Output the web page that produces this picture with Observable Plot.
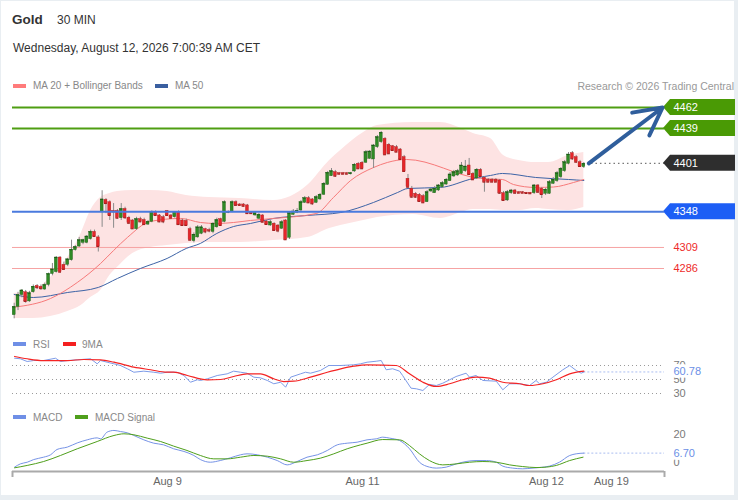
<!DOCTYPE html>
<html><head><meta charset="utf-8">
<script src="https://cdn.jsdelivr.net/npm/d3@7"></script>
<script src="https://cdn.jsdelivr.net/npm/@observablehq/plot@0.6"></script>
<style>
body{margin:0;background:#e9eef2;font-family:"Liberation Sans",Arial,sans-serif;}
#page{position:absolute;left:0;top:0;width:738px;height:500px;overflow:hidden;}
#white{position:absolute;left:1px;top:1px;width:733px;height:494px;background:#fff;}
.t{position:absolute;white-space:nowrap;line-height:1;}
.sw{position:absolute;height:4px;width:13px;}
.panel{position:absolute;left:0;}
</style></head><body>
<div id="page">
<div id="white"></div>
<div class="t" style="left:12px;top:13px;font-size:13.5px;font-weight:bold;color:#333">Gold</div>
<div class="t" style="left:57px;top:13.5px;font-size:12px;color:#333">30 MIN</div>
<div class="t" style="left:13px;top:42px;font-size:12px;color:#333">Wednesday, August 12, 2026 7:00:39 AM CET</div>
<div class="sw" style="left:13px;top:84px;background:#ff7b7b"></div>
<div class="t" style="left:33px;top:81px;font-size:10px;color:#888">MA 20 + Bollinger Bands</div>
<div class="sw" style="left:155px;top:84px;background:#3a5fa0"></div>
<div class="t" style="left:175px;top:81px;font-size:10px;color:#888">MA 50</div>
<div class="t" style="right:4px;top:80.6px;font-size:10.5px;color:#999">Research © 2026 Trading Central</div>
<div class="sw" style="left:13px;top:342px;background:#6f8fe6"></div>
<div class="t" style="left:33px;top:339.5px;font-size:10px;color:#888">RSI</div>
<div class="sw" style="left:63px;top:342px;background:#f42020"></div>
<div class="t" style="left:82px;top:339.5px;font-size:10px;color:#888">9MA</div>
<div class="sw" style="left:13px;top:415px;background:#6f8fe6"></div>
<div class="t" style="left:33px;top:412.5px;font-size:10px;color:#888">MACD</div>
<div class="sw" style="left:75px;top:415px;background:#4f9f1c"></div>
<div class="t" style="left:95px;top:412.5px;font-size:10px;color:#888">MACD Signal</div>
<div id="main" class="panel" style="top:95px"></div>
<div id="rsi" class="panel" style="top:350px"></div>
<div id="macd" class="panel" style="top:420px"></div>
</div>
<script>
// ---------- price candles (30 min bars, bar 1..150) ----------
const opens = [4235,4244,4257,4260,4250,4260,4267,4266,4263,4268,
4280,4282,4298,4290,4290,4295,4306,4310,4314,4314,
4318,4326,4320,4348,4361,4358.5,4349,4349,4341,4351,
4341.5,4338.5,4329,4340,4339,4334,4337,4348,4344,4342,
4349,4344,4342,4348,4338.5,4338,4329,4316,4320,4324,
4329,4328,4326,4331,4340,4337,4347,4348,4358.5,4356,
4356,4355,4347,4344,4340.4,4344,4337.4,4333,4335,4333,
4329.4,4338.5,4319.6,4344.7,4346.9,4349.4,4357.8,4362.9,4361.5,4357.8,
4361.5,4366.6,4377.5,4386.9,4391.3,4390.2,4390.2,4390.2,4389.1,4392.1,
4400.5,4401.6,4401.6,4405.9,4405.2,4418.6,4424.1,4427.8,4421.3,4419.7,
4418.6,4416.1,4407.7,4384.1,4373.2,4367.7,4366.6,4365.1,4358.5,4370.2,
4368.3,4371.3,4374.9,4377.8,4381.5,4386.6,4387.7,4389.5,4392.4,4398.6,
4389.5,4384.4,4393.9,4385.2,4383,4383,4383,4382.2,4368.3,4360.4,
4368.3,4371.3,4369.4,4369.4,4368.8,4368.8,4368.3,4376.8,4373.2,4367.7,
4367.7,4378.6,4381.5,4385.8,4392.4,4400.5,4412.1,4407.7,4402.2,4396.8];
const highs = [4248,4260,4263,4262,4261,4268,4268.5,4268,4270,4281,
4291.5,4299,4299,4293,4297,4317,4311,4320,4318,4322,
4328,4328,4322,4371,4362.5,4360,4357,4350.5,4357,4353,
4343,4339.6,4342,4342,4341,4338.5,4349,4349,4345,4344,
4349.4,4345,4348.3,4349,4340,4340,4331,4325,4333,4333,
4330,4330,4336,4341,4341,4360,4349,4360,4360,4357,
4357,4356,4348,4347,4346,4345,4338.5,4338.5,4336,4334,
4338.5,4339.6,4348.3,4350.5,4351.6,4360.4,4364.7,4364.7,4362.5,4365.8,
4368,4380,4392.1,4395.3,4393.2,4391,4391,4391,4391,4400.8,
4401.9,4403,4415,4415,4421.6,4431.4,4435.8,4429.2,4422.7,4420.5,
4420.5,4417.2,4409.6,4388.8,4375.7,4369.1,4368,4366.9,4371.3,4373.5,
4375.7,4377.8,4381.1,4384.4,4391,4393.2,4394.3,4401.9,4404.1,4406.3,
4391,4395.3,4395.3,4386.6,4384.4,4384.4,4384.4,4383.3,4370.2,4371.3,
4372.4,4372.4,4370.2,4370.2,4369.1,4369.1,4377.8,4377.8,4374.6,4373.5,
4382.2,4385.5,4392.1,4396.4,4404.1,4412.8,4413.9,4409.6,4404.1,4401.9];
const lows = [4231,4240,4254,4248,4249,4259,4263,4262,4262,4266,
4278,4281,4281,4284,4288,4294,4305,4309,4312,4313,
4317,4320,4304,4331,4346,4338.5,4330,4340,4338.5,4339.6,
4334,4328.7,4327.6,4336,4333,4333,4336,4343,4336,4335,
4343,4340.7,4341,4333,4332,4332,4315.5,4314,4319,4323,
4324,4325,4324,4330,4332,4336,4346,4347,4354,4354,
4353,4345,4345,4343,4339.6,4336,4333,4332,4326.5,4325,
4328.7,4316.6,4317.7,4344,4346,4348.3,4357,4357,4355,4357,
4360.4,4365.8,4376.8,4386.6,4385.5,4388.2,4388.2,4388.2,4388.2,4391,
4394.3,4394.3,4400.8,4405.2,4395.3,4417.2,4422.7,4409.6,4410.6,4413.9,
4412.8,4404.1,4391,4373.5,4362.5,4362.5,4358.2,4357.1,4358.2,4369.1,
4368,4370.2,4373.5,4376.8,4381.1,4385.5,4386.6,4388.8,4391,4387.7,
4382.2,4383.3,4385.5,4369.4,4380,4380,4380,4366.9,4359.3,4359.3,
4366.9,4366.9,4368,4368,4366.9,4366.9,4366.9,4368,4362.5,4365.8,
4366.9,4377.8,4380,4384.4,4391,4399.3,4404.1,4400.8,4396.4,4395.3];
const closes = [4244,4257,4262,4250,4259,4266,4265,4264,4268,4280,
4285,4298,4282,4285,4296,4306.5,4309.5,4317,4317,4321,
4326,4321,4310,4361.5,4357,4344,4348,4341,4351,4341.5,
4335.5,4329.4,4340,4337,4334,4337,4348,4344,4337,4337,
4344,4341,4348,4334,4333,4333,4317,4323,4331,4331,
4326,4327,4335,4339,4333,4358.5,4348,4358.5,4355,4355,
4354,4346,4346,4346.5,4344.7,4336.6,4334.1,4336.6,4327.6,4327,
4336.6,4317.4,4346.5,4348.3,4349.1,4358.5,4362.9,4357.8,4356.7,4364,
4366.6,4378.6,4390.6,4392.4,4386.9,4389.1,4389.1,4389.1,4390.2,4399.4,
4395,4395,4413.2,4413.9,4420.5,4429.6,4434.4,4410.3,4411.4,4415,
4413.2,4405.2,4392.1,4374.9,4364,4364,4359.3,4357.8,4369.4,4372.4,
4373.2,4376.8,4379.3,4383,4388.8,4391.3,4392.4,4398.6,4397.5,4388.8,
4383,4393.9,4386.6,4380.4,4380.4,4380.4,4380.4,4368.3,4360.4,4369.4,
4371.3,4368.3,4368.3,4368.3,4368,4367.7,4376.8,4369.4,4366.9,4372.1,
4380.4,4383,4390.2,4395,4402.2,4410.6,4405.9,4402.2,4397.5,4400.5];

// ---------- MA 20, MA 50, Bollinger Bands (read at sample bars) ----------
const ma20Bars = [1,10.5,17.5,23.6,27,30.6,36.6,44.5,49.7,54,58.4,62.8,68.8,80,84.5,89,95,98.6,103.6,123,128.7,131.6,137.4,142.1,147.3,150];
const ma20Vals = [4243.7,4253.2,4270.7,4291.5,4305.7,4319.9,4337.4,4340.7,4336.3,4335.2,4336.3,4338.5,4340.7,4346.1,4363.6,4382.2,4396.4,4401.9,4405.2,4384.4,4383.3,4377.8,4374.6,4375.1,4380,4383.3];
const ma50Bars = [1,6,15,23,28,34,41,46,49.7,54,58.4,62.8,68.8,77.7,86.4,95,101.3,104,112.5,121.1,125.6,128.7,137.4,146,150];
const ma50Vals = [4257.6,4254.3,4259.8,4265.3,4275.1,4286.0,4297,4307.9,4313.4,4324.3,4331.9,4335.2,4340.7,4344,4347.2,4358.2,4369.1,4373.5,4374.6,4384.4,4387.7,4389.9,4385.5,4383.3,4382.2];
const bbBars = [1,6,10.5,15,18.5,21,23.6,26,28,32,36.6,41,46,52,60,68.8,77.7,83.5,86.4,92.4,96,105.4,112.5,118,121.1,125.6,129,133,137.4,140.8,146,150];
const bbUpper = [4258.7,4262.0,4276.2,4298.0,4324.3,4349.4,4363.6,4368.0,4370.2,4371.3,4371.3,4370.2,4365.8,4363.6,4362.5,4360.4,4376.8,4404.1,4415.0,4434.7,4442.4,4445.6,4445.6,4439.1,4433.6,4428.1,4409.6,4404.1,4401.9,4401.9,4409.6,4412.8];
const bbLower = [4231.4,4231.4,4233.5,4239.0,4245.6,4254.3,4262.0,4278.4,4287.1,4302.4,4309.0,4311.2,4313.4,4314.4,4314.4,4316.6,4319.9,4329.8,4333.0,4338.5,4341.8,4345.1,4340.7,4347.2,4350.5,4350.5,4349.4,4349.4,4351.6,4350.5,4349.4,4352.7];

// ---------- key levels ----------
const resistLevels = [4462, 4439];
const pivotLevel = 4348;
const supportLevels = [4309, 4286];
const lastPrice = 4401;

// ---------- RSI ----------
const rsiBars = [1.1,2.6,4.4,6.1,8.7,11.8,13.1,14.9,17.5,21,22.7,23.6,25.3,27.1,28.8,30.6,32.3,34.9,37.5,39.3,41,43.6,45.4,47.1,48.9,49.7,51.5,54.1,56.7,58.4,60.2,61.9,63.7,65.4,67.2,68.9,70.7,72,73.3,75.9,77.2,78.5,81.1,83.3,86.4,89.8,91.6,93.3,
95.7,97,98.3,100,101.8,102.6,104.8,106.2,107.9,109.6,111.4,113.1,114.9,116.6,119.2,120.1,121.8,123.6,127.1,128.8,130.6,133.2,135.8,137.5,138.4,140.2,141.9,144.5,146.3,148,149.3,150];
const rsiVals = [80.4,79.6,75.7,77.1,77.1,80.4,75.7,77.1,78.1,79.6,72.4,77.1,74.7,72.4,70,65.3,60.4,61.9,60.4,59,60.4,60.4,55.7,46.1,49.6,48.6,51,55.7,58.1,61.9,60.4,59,53.3,52.4,48.6,43.9,46.1,39,53.3,58.1,60.4,59,62.9,70,70,71,72.4,74.7,
76.1,77.1,63.9,65.3,61.9,55.7,37.6,36.7,34.3,42.9,41.4,44.7,49.6,54.3,59,53.3,55.7,48.6,47.6,35.3,43.9,43.9,41.4,48.6,43.9,46.1,53.3,63.9,70,62.9,59,60.78];
const rsiMaBars = [1.1,4.4,8.7,14.9,19.2,23.6,27.1,32.3,36.7,41,42.7,46.3,51.5,55,58.4,61.9,65.4,68.9,71.5,74.1,78.5,82.9,86.4,89.8,93.3,100.9,104.4,107.9,111.4,114.9,118.3,121.8,125.3,128.8,133.2,135.8,139.3,142.8,146.3,150];
const rsiMaVals = [82.9,79.6,77.1,77.1,78.6,78.1,74.7,67.6,63.9,60.4,60.4,55.7,49.6,50,54.3,58.1,58.1,51,47.1,47.6,53.3,60.4,65.3,69,71,70,58.1,46.1,40,43.9,49.6,53.3,51.9,46.1,43.9,41.4,43.9,49.6,58.1,61.9];
const rsiLevels = [70, 50, 30];
const rsiLast = 60.78;

// ---------- MACD ----------
const macdBars = [1.1,2.6,4.4,6.1,8.7,10.5,12.2,14.9,17.5,20.1,22.7,23.6,25.3,27.1,28.8,30.6,32.3,34.9,37.5,40.1,42.7,45.4,48,49.7,52.3,54.9,57.5,60.2,61.9,64.6,67.2,69.8,72.4,75,77.6,80.3,82.9,85.5,88.1,90.7,93.3,
95.7,97.4,99.2,101.8,104.4,107,109.6,111.4,114,116.6,119.2,121.8,124.5,127.1,128.8,131.4,134,136.7,138.4,141,143.6,146.3,148,150];
const macdVals = [-3.3,-1.0,0.2,2.1,3.8,5.5,9.3,11.0,14.0,16.2,17.6,16.9,21.7,22.9,22.1,21.2,19.3,16.2,13.8,12.6,9.8,7.9,5.0,2.1,0.2,1.4,3.3,5.5,6.2,5.5,3.8,1.4,-1.7,0.7,3.8,5.5,8.6,12.6,13.8,14.5,16.2,
16.9,18.1,17.4,15.7,9.8,0.2,-3.3,-4.0,-3.3,-1.0,0.7,1.4,1.4,0.2,-2.6,-4.0,-4.5,-4.0,-3.6,-2.6,0.2,5.0,6.2,6.7];
const signalBars = [1.1,4.4,8.7,13.1,17.5,22.7,27.1,29.7,32.3,35.8,39.3,42.7,46.2,49.7,53.2,56.7,60.2,63.7,67.2,70.7,74.1,77.6,81.1,84.6,88.1,91.6,93.3,
97.4,101.8,104.4,107,109.6,113.1,116.6,120.1,123.6,127.1,130.6,134,137.5,140.2,142.8,146.3,149.8];
const signalVals = [-3.8,-2.1,0.7,5.0,9.8,15.0,19.3,20.5,19.8,17.4,15.0,11.7,8.6,5.0,2.6,2.6,3.8,5.0,4.5,2.6,0.2,1.4,3.1,6.2,9.8,12.6,13.8,
16.4,16.2,12.1,6.2,1.4,-1.7,-1.0,0.2,0.7,0.2,-1.7,-2.9,-3.6,-3.3,-2.1,1.4,3.8];
const macdLevels = [20, 0];
const macdLast = 6.70;

// ---------- time axis ----------
const tickBars = [41.1, 92.1, 140.2, 157.2];
const tickLabels = ["Aug 9", "Aug 11", "Aug 12", "Aug 19"];

// ================= build =================
const xDomain = [0.555, 171.1];
const FONT = "'Liberation Sans', Arial, sans-serif";
const common = {width: 738, marginLeft: 12, marginRight: 74, marginTop: 0,
  style: {background: "none", fontFamily: FONT, overflow: "visible"}};

const candles = opens.map((o, i) => ({bar: i + 1, open: o, high: highs[i], low: lows[i], close: closes[i]}));
const upC = candles.filter(d => d.close >= d.open);
const dnC = candles.filter(d => d.close < d.open);
const ma20 = ma20Bars.map((b, i) => ({bar: b, v: ma20Vals[i]}));
const ma50 = ma50Bars.map((b, i) => ({bar: b, v: ma50Vals[i]}));
const bb = bbBars.map((b, i) => ({bar: b, upper: bbUpper[i], lower: bbLower[i]}));
const tags = [
  {v: resistLevels[0], fill: "#4a9a05"},
  {v: resistLevels[1], fill: "#4a9a05"},
  {v: lastPrice, fill: "#2e2e2e"},
  {v: pivotLevel, fill: "#1d5ef5"}
];
const bw = 0.38;

const main = Plot.plot({
  ...common, height: 235, marginBottom: 0,
  x: {domain: xDomain, axis: null},
  y: {domain: [4286, 4462], range: [173, 12], axis: null},
  marks: [
    Plot.areaY(bb, {x: "bar", y1: "lower", y2: "upper", fill: "#fde3e3", curve: "monotone-x"}),
    Plot.ruleY(supportLevels, {stroke: "#f6a3a3", strokeWidth: 1}),
    Plot.line(ma50, {x: "bar", y: "v", stroke: "#3d63a6", strokeWidth: 1, curve: "monotone-x"}),
    Plot.line(ma20, {x: "bar", y: "v", stroke: "#f77a7a", strokeWidth: 1, curve: "monotone-x"}),
    Plot.ruleX(candles, {x: "bar", y1: "low", y2: "high", stroke: "#8a8a8a", strokeWidth: 1}),
    Plot.rect(upC, {x1: d => d.bar - bw, x2: d => d.bar + bw, y1: "open", y2: "close", fill: "#2f8a25", stroke: "#1d5c17", strokeWidth: 0.4}),
    Plot.rect(dnC, {x1: d => d.bar - bw, x2: d => d.bar + bw, y1: "open", y2: "close", fill: "#e5262a", stroke: "#a51a1a", strokeWidth: 0.4}),
    Plot.ruleY(upC, {x1: d => d.bar - bw, x2: d => d.bar + bw, y: "close", stroke: "#1d5c17", strokeWidth: 1}),
    Plot.ruleY(dnC, {x1: d => d.bar - bw, x2: d => d.bar + bw, y: "close", stroke: "#a51a1a", strokeWidth: 1}),
    Plot.ruleY(resistLevels, {stroke: "#4f9e12", strokeWidth: 2}),
    Plot.ruleY([pivotLevel], {stroke: "#4a7ade", strokeWidth: 2}),
    Plot.ruleY([lastPrice], {x1: 152, x2: xDomain[1], stroke: "#555", strokeDasharray: "1.5,3"}),
    Plot.arrow([{x1: 151.3, y1: lastPrice, x2: 170.6, y2: resistLevels[0]}],
      {x1: "x1", y1: "y1", x2: "x2", y2: "y2", stroke: "#2f5e9c", strokeWidth: 4, headLength: 13, headAngle: 55}),
    Plot.text(tags, {y: "v", text: d => String(d.v), frameAnchor: "right", dx: 9, textAnchor: "start", fill: "white", fontSize: 11}),
    Plot.text(supportLevels, {y: d => d, text: d => String(d), frameAnchor: "right", dx: 9, textAnchor: "start", fill: "#ee2b2b", fontSize: 11})
  ]
});
document.getElementById("main").appendChild(main);
(function () {
  const ys = main.scale("y");
  const yf = ys.apply ? (v => ys.apply(v)) : d3.scaleLinear(ys.domain, ys.range);
  const g = d3.select(main).insert("g", ":first-child");
  tags.forEach(t => {
    const y = yf(t.v);
    g.append("polygon")
      .attr("points", `663,${y} 670,${y - 8} 735,${y - 8} 735,${y + 8} 670,${y + 8}`)
      .attr("fill", t.fill);
  });
})();

const rsi = rsiBars.map((b, i) => ({bar: b, v: rsiVals[i]}));
const rsiMa = rsiMaBars.map((b, i) => ({bar: b, v: rsiMaVals[i]}));
const rsiPlot = Plot.plot({
  ...common, height: 50, marginBottom: 0,
  x: {domain: xDomain, axis: null},
  y: {domain: [30, 70], range: [43, 15], axis: null},
  marks: [
    Plot.ruleY(rsiLevels, {stroke: "#9a9a9a", strokeDasharray: "1,3"}),
    Plot.ruleY([rsiLast], {x1: 150, x2: xDomain[1], stroke: "#a9bdf0", strokeDasharray: "2,2"}),
    Plot.line(rsi, {x: "bar", y: "v", stroke: "#7d9be8", strokeWidth: 1}),
    Plot.line(rsiMa, {x: "bar", y: "v", stroke: "#f42424", strokeWidth: 1.2, curve: "monotone-x"}),
    Plot.text(rsiLevels, {y: d => d, text: d => String(d), frameAnchor: "right", dx: 9, textAnchor: "start", fill: "#7a7a7a", fontSize: 11}),
    Plot.text([rsiLast], {y: d => d, text: d => d.toFixed(2), frameAnchor: "right", dx: 9, textAnchor: "start", fill: "#6b8fe6", fontSize: 11, stroke: "white", strokeWidth: 6, paintOrder: "stroke"})
  ]
});
document.getElementById("rsi").appendChild(rsiPlot);

const macd = macdBars.map((b, i) => ({bar: b, v: macdVals[i]}));
const signal = signalBars.map((b, i) => ({bar: b, v: signalVals[i]}));
const macdFloor = -6.43;
const ticks = tickBars.map((b, i) => ({bar: b, label: tickLabels[i]}));
const macdPlot = Plot.plot({
  ...common, height: 80, marginBottom: 29,
  x: {domain: xDomain, axis: null},
  y: {domain: [macdFloor, 20], range: [51, 14], axis: null},
  marks: [
    Plot.ruleY([macdLast], {x1: 150, x2: xDomain[1], stroke: "#a9bdf0", strokeDasharray: "2,2"}),
    Plot.line(macd, {x: "bar", y: "v", stroke: "#7693e6", strokeWidth: 1, curve: "monotone-x"}),
    Plot.line(signal, {x: "bar", y: "v", stroke: "#4f9f1c", strokeWidth: 1, curve: "monotone-x"}),
    Plot.ruleY([macdFloor], {stroke: "#aaa", strokeWidth: 2}),
    Plot.ruleX(xDomain, {x: d => d, y1: macdFloor, y2: -10.7, stroke: "#aaa", strokeWidth: 2}),
    Plot.text(ticks, {x: "bar", text: "label", frameAnchor: "bottom", dy: 13, fill: "#666", fontSize: 11}),
    Plot.text(macdLevels, {y: d => d, text: d => String(d), frameAnchor: "right", dx: 9, textAnchor: "start", fill: "#7a7a7a", fontSize: 11}),
    Plot.text([macdLast], {y: d => d, text: d => d.toFixed(2), frameAnchor: "right", dx: 9, textAnchor: "start", fill: "#6b8fe6", fontSize: 11, stroke: "white", strokeWidth: 6, paintOrder: "stroke"})
  ]
});
document.getElementById("macd").appendChild(macdPlot);
</script>
</body></html>
